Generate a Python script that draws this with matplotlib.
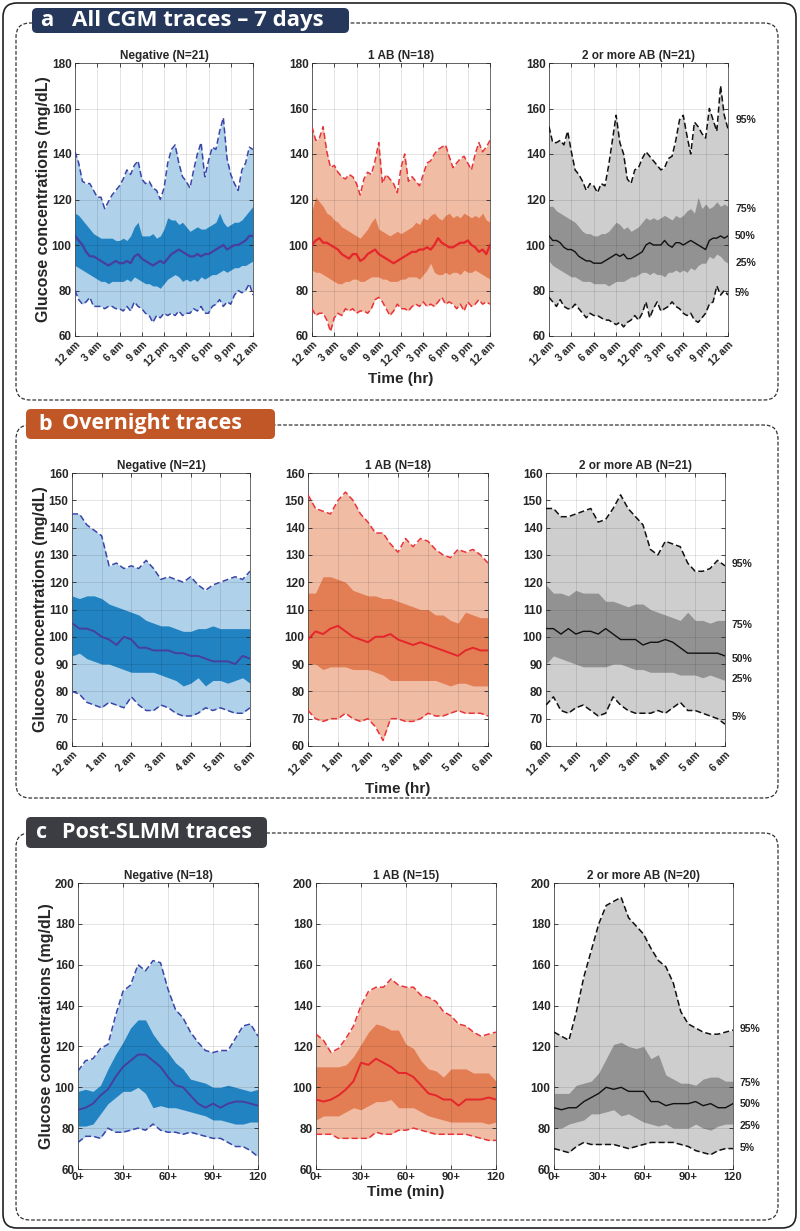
import numpy as np
import matplotlib
matplotlib.use("Agg")
import matplotlib.pyplot as plt
from matplotlib.patches import FancyBboxPatch

plt.rcParams['font.family'] = ['Liberation Sans', 'DejaVu Sans']

W, H = 800, 1231

# ---------------- data ----------------
# a: all CGM traces over the day, read every 30 min
hours_day = np.arange(0, 24.01, 0.5)
day_ticks = [0, 3, 6, 9, 12, 15, 18, 21, 24]
day_labels = ['12 am', '3 am', '6 am', '9 am', '12 pm', '3 pm', '6 pm', '9 pm', '12 am']

neg_day_p95 = [141, 136, 128, 127, 127, 124, 121, 121, 116, 119, 122, 124, 126, 129, 133, 131, 135, 137,
               129, 127, 128, 125, 124, 120, 125, 136, 142, 144, 136, 130, 128, 125, 133, 140, 145, 130,
               137, 143, 142, 150, 156, 138, 131, 127, 124, 133, 136, 143, 142]
neg_day_p75 = [114, 113, 111, 109, 107, 105, 104, 103, 103, 103, 103, 102, 102, 103, 102, 104, 108, 110,
               104, 104, 104, 105, 103, 104, 107, 112, 111, 111, 109, 110, 108, 106, 107, 108, 107, 107,
               108, 109, 110, 114, 110, 108, 109, 110, 110, 111, 113, 115, 117]
neg_day_p50 = [104, 102, 100, 97, 95, 95, 94, 93, 92, 91, 92, 93, 92, 92, 93, 92, 95, 96,
               94, 93, 92, 91, 92, 93, 92, 94, 96, 97, 98, 97, 96, 95, 95, 96, 95, 96,
               96, 97, 98, 99, 100, 98, 99, 100, 100, 101, 102, 104, 104]
neg_day_p25 = [91, 90, 89, 88, 87, 86, 85, 84, 84, 83, 84, 84, 84, 84, 85, 84, 86, 85,
               84, 83, 83, 82, 82, 81, 83, 85, 86, 87, 86, 84, 85, 84, 85, 84, 86, 85,
               86, 87, 87, 88, 89, 88, 89, 90, 90, 91, 91, 92, 93]
neg_day_p5 = [80, 76, 74, 75, 77, 73, 73, 73, 72, 73, 73, 72, 72, 71, 73, 71, 75, 73,
              72, 70, 69, 66, 69, 68, 70, 69, 70, 69, 71, 69, 70, 70, 72, 71, 73, 70,
              70, 73, 74, 76, 73, 75, 74, 78, 80, 79, 80, 83, 78]

ab1_day_p95 = [152, 146, 147, 152, 141, 134, 135, 132, 130, 129, 131, 130, 127, 122, 129, 132, 131, 137,
               145, 127, 131, 129, 127, 123, 134, 140, 128, 130, 128, 126, 131, 136, 137, 140, 142, 143,
               144, 139, 134, 136, 138, 139, 136, 133, 140, 145, 141, 143, 146]
ab1_day_p75 = [115, 121, 119, 117, 114, 113, 111, 110, 108, 107, 106, 105, 104, 103, 105, 107, 110, 112,
               107, 106, 105, 104, 105, 106, 105, 106, 107, 108, 110, 109, 112, 111, 113, 114, 112, 111,
               113, 114, 112, 113, 112, 114, 113, 112, 113, 112, 114, 111, 110]
ab1_day_p50 = [100, 102, 103, 101, 101, 100, 99, 98, 96, 95, 94, 96, 96, 93, 94, 96, 97, 98,
               96, 95, 94, 93, 92, 93, 94, 95, 96, 97, 97, 98, 98, 99, 98, 100, 103, 101,
               100, 99, 99, 100, 101, 101, 102, 100, 99, 97, 98, 96, 100]
ab1_day_p25 = [89, 88, 88, 87, 86, 85, 84, 83, 83, 84, 84, 85, 85, 84, 84, 85, 86, 86,
               86, 85, 85, 84, 84, 84, 85, 85, 86, 86, 86, 85, 87, 89, 92, 88, 87, 87,
               88, 87, 88, 88, 87, 89, 88, 88, 89, 88, 87, 86, 85]
ab1_day_p5 = [72, 69, 70, 70, 67, 62, 68, 70, 69, 72, 71, 72, 70, 71, 71, 70, 72, 76,
              77, 75, 72, 69, 71, 74, 72, 72, 71, 73, 74, 73, 75, 73, 74, 73, 75, 77,
              74, 75, 74, 72, 74, 71, 75, 73, 74, 76, 74, 75, 74]

ab2_day_p95 = [152, 145, 145, 146, 144, 150, 141, 133, 131, 128, 124, 127, 126, 123, 127, 126, 135, 146,
               157, 145, 140, 129, 127, 133, 134, 138, 141, 139, 137, 135, 133, 134, 138, 139, 146, 155,
               157, 148, 140, 154, 152, 149, 147, 160, 155, 150, 170, 157, 151]
ab2_day_p75 = [117, 117, 115, 114, 113, 112, 111, 110, 108, 106, 105, 105, 104, 104, 105, 105, 106, 108,
               110, 109, 107, 108, 106, 107, 108, 110, 112, 111, 112, 111, 112, 113, 112, 111, 113, 112,
               113, 115, 116, 114, 121, 116, 118, 116, 117, 119, 117, 118, 117]
ab2_day_p50 = [104, 102, 102, 101, 99, 98, 98, 97, 95, 94, 93, 93, 92, 92, 92, 93, 94, 95,
               96, 95, 96, 94, 94, 95, 96, 97, 100, 101, 100, 100, 100, 102, 100, 99, 101, 101,
               100, 101, 102, 101, 100, 99, 98, 102, 103, 103, 104, 103, 104]
ab2_day_p25 = [93, 91, 90, 89, 88, 87, 86, 86, 85, 84, 84, 84, 83, 83, 83, 83, 82, 83,
               84, 84, 84, 85, 86, 86, 87, 88, 88, 87, 88, 87, 87, 86, 88, 88, 89, 88,
               89, 88, 90, 89, 91, 92, 92, 95, 94, 96, 95, 93, 92]
ab2_day_p5 = [77, 75, 73, 76, 73, 72, 72, 74, 72, 70, 68, 70, 69, 69, 68, 67, 67, 66,
              65, 66, 64, 66, 67, 69, 67, 70, 75, 68, 72, 75, 71, 72, 73, 75, 73, 72,
              70, 69, 70, 67, 66, 68, 70, 74, 75, 82, 78, 80, 78]

# b: overnight traces, read every 15 min
hours_night = np.arange(0, 6.01, 0.25)
night_ticks = [0, 1, 2, 3, 4, 5, 6]
night_labels = ['12 am', '1 am', '2 am', '3 am', '4 am', '5 am', '6 am']

neg_night_p95 = [145, 145, 141, 139, 137, 126, 127, 125, 126, 125, 128, 125, 121,
                 122, 121, 120, 122, 119, 117, 119, 120, 121, 122, 121, 124]
neg_night_p75 = [115, 114, 115, 115, 114, 112, 111, 110, 109, 108, 106, 105, 104,
                 104, 103, 102, 102, 103, 103, 104, 103, 103, 103, 103, 103]
neg_night_p50 = [105, 103, 103, 102, 100, 99, 97, 100, 99, 96, 96, 95, 95,
                 95, 94, 94, 93, 93, 92, 91, 91, 91, 90, 93, 92]
neg_night_p25 = [93, 94, 92, 91, 90, 90, 89, 88, 87, 87, 87, 87, 86,
                 85, 84, 82, 83, 85, 82, 84, 84, 83, 84, 85, 83]
neg_night_p5 = [80, 79, 76, 75, 74, 76, 75, 74, 78, 75, 73, 73, 75,
                74, 72, 71, 71, 72, 74, 73, 74, 73, 72, 72, 74]

ab1_night_p95 = [152, 147, 146, 145, 150, 153, 150, 145, 142, 138, 138, 134, 131,
                 136, 133, 136, 135, 132, 130, 129, 132, 131, 132, 130, 127]
ab1_night_p75 = [116, 116, 122, 122, 121, 120, 117, 116, 115, 115, 114, 114, 113,
                 112, 111, 110, 110, 108, 108, 106, 105, 109, 108, 107, 107]
ab1_night_p50 = [99, 102, 101, 103, 104, 102, 100, 99, 98, 100, 100, 101, 99,
                 98, 97, 98, 97, 96, 95, 94, 93, 95, 96, 95, 95]
ab1_night_p25 = [90, 90, 88, 89, 89, 89, 88, 88, 88, 87, 86, 84, 84,
                 84, 84, 84, 84, 84, 83, 82, 83, 83, 82, 82, 82]
ab1_night_p5 = [73, 70, 69, 70, 70, 72, 70, 69, 70, 67, 62, 70, 70,
                69, 69, 70, 72, 71, 71, 72, 73, 72, 72, 72, 71]

ab2_night_p95 = [147, 147, 144, 144, 145, 146, 147, 142, 143, 147, 152, 147, 144,
                 141, 132, 130, 135, 134, 133, 127, 124, 124, 125, 128, 126]
ab2_night_p75 = [119, 116, 116, 115, 117, 116, 116, 116, 113, 113, 112, 111, 112,
                 112, 110, 109, 108, 107, 106, 109, 106, 106, 105, 106, 106]
ab2_night_p50 = [103, 103, 101, 103, 101, 102, 102, 101, 103, 101, 99, 99, 99,
                 97, 98, 98, 99, 98, 96, 94, 94, 94, 94, 94, 93]
ab2_night_p25 = [90, 93, 92, 91, 90, 89, 89, 89, 89, 90, 90, 89, 88,
                 88, 87, 87, 87, 87, 86, 86, 86, 85, 86, 85, 84]
ab2_night_p5 = [75, 78, 73, 72, 74, 75, 73, 71, 72, 78, 75, 73, 72,
                72, 72, 73, 72, 74, 76, 73, 73, 72, 71, 70, 68]

# c: post-SLMM traces, every 5 min
minutes = np.arange(0, 121, 5)
min_ticks = [0, 30, 60, 90, 120]
min_labels = ['0+', '30+', '60+', '90+', '120']

neg_meal_p95 = [108, 113, 114, 119, 121, 135, 147, 150, 160, 157, 162, 161, 148,
                138, 134, 127, 122, 118, 117, 118, 118, 124, 130, 131, 125]
neg_meal_p75 = [98, 99, 98, 101, 109, 116, 122, 129, 133, 133, 126, 121, 117,
                112, 109, 104, 103, 102, 100, 100, 101, 100, 99, 98, 99]
neg_meal_p50 = [89, 90, 92, 96, 99, 105, 110, 113, 116, 116, 113, 110, 105,
                101, 100, 96, 92, 90, 92, 90, 92, 93, 93, 92, 91]
neg_meal_p25 = [81, 81, 82, 87, 92, 95, 98, 98, 100, 97, 90, 91, 90,
                90, 89, 88, 87, 86, 84, 84, 83, 82, 82, 83, 83]
neg_meal_p5 = [73, 76, 76, 75, 80, 78, 78, 79, 80, 79, 82, 79, 78,
               78, 77, 78, 77, 76, 75, 75, 73, 71, 71, 69, 66]

ab1_meal_p95 = [126, 123, 117, 119, 124, 130, 140, 147, 149, 149, 153, 150, 149,
                149, 145, 144, 142, 137, 135, 131, 130, 127, 125, 126, 127]
ab1_meal_p75 = [110, 110, 110, 110, 111, 115, 121, 127, 131, 130, 128, 128, 121,
                119, 113, 109, 108, 105, 109, 109, 109, 107, 107, 107, 103]
ab1_meal_p50 = [94, 93, 94, 96, 99, 103, 112, 111, 114, 112, 110, 107, 107,
                105, 101, 97, 96, 94, 94, 91, 94, 94, 94, 95, 94]
ab1_meal_p25 = [84, 86, 86, 86, 88, 90, 89, 91, 93, 93, 94, 90, 90,
                90, 88, 86, 85, 84, 83, 83, 83, 83, 83, 82, 83]
ab1_meal_p5 = [77, 77, 77, 75, 75, 75, 75, 75, 78, 77, 77, 79, 79,
               80, 79, 78, 77, 77, 77, 77, 77, 76, 75, 74, 74]

ab2_meal_p95 = [127, 125, 123, 137, 154, 167, 180, 189, 191, 193, 183, 179, 175,
                168, 162, 159, 151, 137, 131, 129, 127, 126, 126, 127, 128]
ab2_meal_p75 = [97, 97, 97, 101, 102, 103, 107, 114, 121, 122, 120, 119, 120,
                114, 116, 106, 104, 102, 102, 101, 104, 105, 105, 103, 103]
ab2_meal_p50 = [90, 89, 90, 90, 93, 95, 97, 100, 99, 100, 98, 98, 98,
                93, 93, 91, 92, 92, 92, 93, 91, 92, 90, 90, 92]
ab2_meal_p25 = [80, 80, 82, 83, 84, 87, 87, 88, 89, 86, 87, 85, 83,
                82, 81, 82, 80, 80, 80, 82, 80, 79, 81, 82, 82]
ab2_meal_p5 = [70, 69, 68, 71, 73, 72, 72, 72, 72, 71, 70, 71, 72,
               73, 73, 73, 73, 72, 71, 69, 68, 67, 69, 70, 70]

pct_names = ['95%', '75%', '50%', '25%', '5%']

# ---------------- styles ----------------
neg_col = dict(light='#afd2ea', dark='#2283c2', med='#463f9e', edge='#3a45a8')
ab1_col = dict(light='#f0bca4', dark='#e27d54', med='#e5262a', edge='#e8333a')
ab2_col = dict(light='#cecece', dark='#929292', med='#111111', edge='#111111')
txt_col = '#262626'


def px_axes(fig, x, y, w, h):
    return fig.add_axes([x / W, 1 - (y + h) / H, w / W, h / H])


def draw_panel(ax, x, bands, col, title, ylim, yticks, xticks, xlabels, rotate, med_lw):
    p5, p25, p50, p75, p95 = bands
    ax.fill_between(x, p5, p95, color=col['light'], lw=0, zorder=1)
    ax.fill_between(x, p25, p75, color=col['dark'], lw=0, zorder=2)
    ax.plot(x, p95, color=col['edge'], lw=1.1, ls=(0, (4, 2)), zorder=3)
    ax.plot(x, p5, color=col['edge'], lw=1.1, ls=(0, (4, 2)), zorder=3)
    ax.plot(x, p50, color=col['med'], lw=med_lw, zorder=4)
    ax.set_xlim(x[0], x[-1])
    ax.set_ylim(*ylim)
    ax.set_yticks(yticks)
    ax.set_xticks(xticks)
    if rotate:
        ax.set_xticklabels(xlabels, rotation=45, ha='right', rotation_mode='anchor')
    else:
        ax.set_xticklabels(xlabels)
    ax.grid(True, color='k', alpha=0.12, lw=0.6)
    ax.set_axisbelow(False)
    ax.tick_params(direction='in', length=3, width=0.6, top=True, right=True,
                   colors=txt_col, pad=2.5)
    ax.tick_params(axis='y', labelsize=8.5)
    ax.tick_params(axis='x', labelsize=8 if not rotate else 7.5)
    for lab in ax.get_xticklabels() + ax.get_yticklabels():
        lab.set_fontweight('bold')
    for sp in ax.spines.values():
        sp.set_color('#555555')
        sp.set_linewidth(0.6)
    ax.set_title(title, fontsize=8.5, fontweight='bold', color=txt_col, pad=3)


fig = plt.figure(figsize=(W / 100, H / 100), dpi=100)

# background layer in pixel coordinates for frames and headers
bg = fig.add_axes([0, 0, 1, 1], zorder=-1)
bg.set_xlim(0, W)
bg.set_ylim(H, 0)
bg.axis('off')

bg.add_patch(FancyBboxPatch((3, 3), 793, 1225, boxstyle='round,pad=0,rounding_size=14',
                            fc='white', ec='#222222', lw=1.2))
for top, bottom in [(23, 400), (425, 798), (833, 1220)]:
    bg.add_patch(FancyBboxPatch((16, top), 762, bottom - top,
                                boxstyle='round,pad=0,rounding_size=14',
                                fc='none', ec='#333333', lw=0.9, ls=(0, (3, 1.5))))

headers = [
    (32, 8, 317, 25, '#25375a', 'a', 'All CGM traces \u2013 7 days', 40, 72, 16),
    (26, 409, 249, 30, '#c15726', 'b', 'Overnight traces', 38, 62, 15.5),
    (26, 817, 241, 31, '#3b3d42', 'c', 'Post-SLMM traces', 36, 62, 15.5),
]
for x0, y0, w, h, fc, letter, label, lx, tx, fs in headers:
    bg.add_patch(FancyBboxPatch((x0, y0), w, h, boxstyle='round,pad=0,rounding_size=5',
                                fc=fc, ec='none', zorder=3))
    bg.text(lx, y0 + h / 2, letter, color='white', fontsize=fs, fontweight='bold',
            family=['Open Sans', 'DejaVu Sans'], va='center', ha='left', zorder=4)
    bg.text(tx, y0 + h / 2, label, color='white', fontsize=fs, fontweight='bold',
            family=['Open Sans', 'DejaVu Sans'], va='center', ha='left', zorder=4)

ylabel = 'Glucose concentrations (mg/dL)'

# ---- row a ----
row_a = [
    ((75, 63, 178, 273), 'Negative (N=21)',
     (neg_day_p5, neg_day_p25, neg_day_p50, neg_day_p75, neg_day_p95), neg_col),
    ((312, 63, 178, 273), '1 AB (N=18)',
     (ab1_day_p5, ab1_day_p25, ab1_day_p50, ab1_day_p75, ab1_day_p95), ab1_col),
    ((549, 63, 179, 273), '2 or more AB (N=21)',
     (ab2_day_p5, ab2_day_p25, ab2_day_p50, ab2_day_p75, ab2_day_p95), ab2_col),
]
axes_a = []
for rect, title, bands, col in row_a:
    ax = px_axes(fig, *rect)
    draw_panel(ax, hours_day, bands, col, title, (60, 180), range(60, 181, 20),
               day_ticks, day_labels, True, 1.6 if col is not ab2_col else 1.0)
    axes_a.append(ax)

# ---- row b ----
row_b = [
    ((72, 473, 178, 273), 'Negative (N=21)',
     (neg_night_p5, neg_night_p25, neg_night_p50, neg_night_p75, neg_night_p95), neg_col),
    ((308, 473, 180, 273), '1 AB (N=18)',
     (ab1_night_p5, ab1_night_p25, ab1_night_p50, ab1_night_p75, ab1_night_p95), ab1_col),
    ((546, 473, 179, 273), '2 or more AB (N=21)',
     (ab2_night_p5, ab2_night_p25, ab2_night_p50, ab2_night_p75, ab2_night_p95), ab2_col),
]
axes_b = []
for rect, title, bands, col in row_b:
    ax = px_axes(fig, *rect)
    draw_panel(ax, hours_night, bands, col, title, (60, 160), range(60, 161, 10),
               night_ticks, night_labels, True, 1.4 if col is not ab2_col else 1.0)
    axes_b.append(ax)

# ---- row c ----
row_c = [
    ((78, 883, 180, 286), 'Negative (N=18)',
     (neg_meal_p5, neg_meal_p25, neg_meal_p50, neg_meal_p75, neg_meal_p95), neg_col),
    ((316, 883, 180, 286), '1 AB (N=15)',
     (ab1_meal_p5, ab1_meal_p25, ab1_meal_p50, ab1_meal_p75, ab1_meal_p95), ab1_col),
    ((554, 883, 179, 286), '2 or more AB (N=20)',
     (ab2_meal_p5, ab2_meal_p25, ab2_meal_p50, ab2_meal_p75, ab2_meal_p95), ab2_col),
]
axes_c = []
for rect, title, bands, col in row_c:
    ax = px_axes(fig, *rect)
    draw_panel(ax, minutes, bands, col, title, (60, 200), range(60, 201, 20),
               min_ticks, min_labels, False, 1.4 if col is not ab2_col else 1.0)
    axes_c.append(ax)

# axis labels
for row in (axes_a, axes_b, axes_c):
    row[0].set_ylabel(ylabel, fontsize=11.5, fontweight='bold', color=txt_col)
    row[0].yaxis.set_label_coords(-0.135, 0.5)
axes_a[1].set_xlabel('Time (hr)', fontsize=11, fontweight='bold', color=txt_col)
axes_a[1].xaxis.set_label_coords(0.5, -36 / 273)
axes_b[1].set_xlabel('Time (hr)', fontsize=11, fontweight='bold', color=txt_col)
axes_b[1].xaxis.set_label_coords(0.5, -36 / 273)
axes_c[1].set_xlabel('Time (min)', fontsize=11, fontweight='bold', color=txt_col)
axes_c[1].xaxis.set_label_coords(0.5, -16 / 286)

# percentile tags on the right-hand panels
for ax, ypos, xoff in [(axes_a[2], [155, 116, 104, 92, 79], 1.04),
                       (axes_b[2], [126.5, 104.5, 92, 84.5, 70.5], 1.035),
                       (axes_c[2], [128.5, 102, 92, 81, 70.5], 1.035)]:
    for name, yv in zip(pct_names, ypos):
        ax.text(xoff, yv, name, transform=ax.get_yaxis_transform(), fontsize=7.5,
                fontweight='bold', color=txt_col, va='center', ha='left', clip_on=False)

fig.savefig('out.png', dpi=100)
